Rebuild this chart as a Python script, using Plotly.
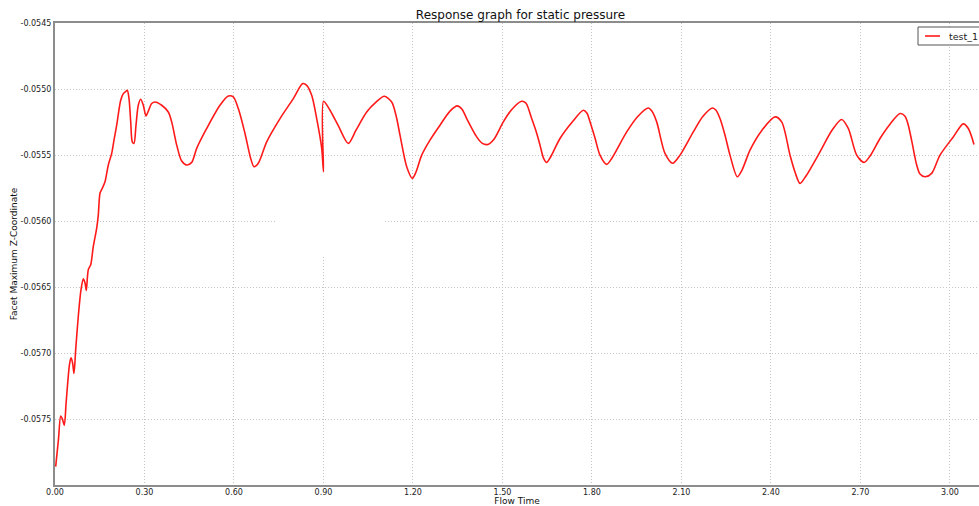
import plotly.graph_objects as go

# Flow time samples and the monitored facet maximum z-coordinate
flow_time = [
    0.0023, 0.0117, 0.0191, 0.0251, 0.0312, 0.0369, 0.0426, 0.0486, 0.0536, 0.0587,
    0.0637, 0.0694, 0.0781, 0.0872, 0.0949, 0.1006, 0.1049, 0.1116, 0.1197, 0.1284,
    0.1398, 0.1452, 0.1509, 0.1586, 0.1676, 0.1787, 0.1901, 0.1978, 0.2068, 0.2202,
    0.2290, 0.2380, 0.2424, 0.2481, 0.2538, 0.2591, 0.2648, 0.2715, 0.2792, 0.2873,
    0.2960, 0.3051, 0.3128, 0.3242, 0.3352, 0.3577, 0.3798, 0.3912, 0.4080, 0.4247,
    0.4415, 0.4583, 0.4750, 0.5085, 0.5531, 0.5810, 0.5977, 0.6145, 0.6369, 0.6561,
    0.6671, 0.6815, 0.7097, 0.7543, 0.7989, 0.8304, 0.8438, 0.8605, 0.8773, 0.8941,
    0.9001, 0.9002, 0.9219, 0.9487, 0.9832, 1.0091, 1.0449, 1.0761, 1.1039, 1.1287,
    1.1431, 1.1566, 1.1790, 1.1978, 1.2102, 1.2293, 1.2571, 1.2906, 1.3242, 1.3486,
    1.3644, 1.3802, 1.4137, 1.4314, 1.4506, 1.4717, 1.5029, 1.5320, 1.5645, 1.5790,
    1.5980, 1.6125, 1.6259, 1.6376, 1.6483, 1.6594, 1.6929, 1.7332, 1.7711, 1.7835,
    1.7935, 1.8103, 1.8270, 1.8495, 1.8673, 1.9165, 1.9544, 1.9890, 2.0013, 2.0171,
    2.0449, 2.0708, 2.0952, 2.1398, 2.1723, 2.2048, 2.2159, 2.2293, 2.2461, 2.2628,
    2.2873, 2.3031, 2.3299, 2.3701, 2.4137, 2.4361, 2.4640, 2.4807, 2.4975, 2.5176,
    2.5645, 2.6048, 2.6373, 2.6594, 2.6876, 2.7121, 2.7322, 2.7657, 2.7992, 2.8327,
    2.8495, 2.8605, 2.8729, 2.8887, 2.8998, 2.9165, 2.9390, 2.9668, 3.0114, 3.0449,
    3.0617, 3.0808,
]

facet_max_z = [
    -0.057861, -0.057653, -0.057477, -0.057502, -0.057548, -0.057389, -0.057225, -0.057087, -0.057036, -0.057072,
    -0.057155, -0.056974, -0.056722, -0.056520, -0.056437, -0.056468, -0.056526, -0.056369, -0.056332, -0.056193,
    -0.056054, -0.055954, -0.055790, -0.055752, -0.055702, -0.055576, -0.055488, -0.055387, -0.055274, -0.055085,
    -0.055035, -0.055017, -0.055010, -0.055073, -0.055249, -0.055400, -0.055412, -0.055274, -0.055123, -0.055078,
    -0.055123, -0.055204, -0.055168, -0.055110, -0.055098, -0.055123, -0.055174, -0.055249, -0.055425, -0.055546,
    -0.055576, -0.055556, -0.055450, -0.055299, -0.055123, -0.055053, -0.055060, -0.055148, -0.055337, -0.055526,
    -0.055589, -0.055563, -0.055400, -0.055224, -0.055073, -0.054959, -0.054972, -0.055048, -0.055224, -0.055450,
    -0.055627, -0.055093, -0.055161, -0.055274, -0.055412, -0.055312, -0.055174, -0.055100, -0.055055, -0.055098,
    -0.055199, -0.055350, -0.055589, -0.055677, -0.055629, -0.055501, -0.055387, -0.055274, -0.055168, -0.055128,
    -0.055153, -0.055224, -0.055363, -0.055410, -0.055420, -0.055380, -0.055249, -0.055153, -0.055093, -0.055108,
    -0.055224, -0.055319, -0.055425, -0.055523, -0.055556, -0.055523, -0.055375, -0.055252, -0.055161, -0.055184,
    -0.055249, -0.055372, -0.055501, -0.055571, -0.055523, -0.055325, -0.055206, -0.055144, -0.055168, -0.055249,
    -0.055488, -0.055563, -0.055501, -0.055325, -0.055206, -0.055144, -0.055161, -0.055224, -0.055350, -0.055501,
    -0.055665, -0.055614, -0.055463, -0.055312, -0.055211, -0.055249, -0.055501, -0.055629, -0.055715, -0.055659,
    -0.055476, -0.055312, -0.055231, -0.055299, -0.055501, -0.055556, -0.055508, -0.055375, -0.055267, -0.055186,
    -0.055206, -0.055274, -0.055403, -0.055576, -0.055644, -0.055665, -0.055639, -0.055501, -0.055363, -0.055264,
    -0.055299, -0.055420,
]

series_name = "test_1"
x_ticks = [0.0, 0.3, 0.6, 0.9, 1.2, 1.5, 1.8, 2.1, 2.4, 2.7, 3.0]
x_tick_text = ["0.00", "0.30", "0.60", "0.90", "1.20", "1.50", "1.80", "2.10", "2.40", "2.70", "3.00"]
y_ticks = [-0.0575, -0.0570, -0.0565, -0.0560, -0.0555, -0.0550, -0.0545]
y_tick_text = ["-0.0575", "-0.0570", "-0.0565", "-0.0560", "-0.0555", "-0.0550", "-0.0545"]

W, H = 979, 506
ML, MR, MT, MB = 55, 0, 23, 21
PW, PH = W - ML - MR, H - MT - MB
FONT = "DejaVu Sans"
LINE_COLOR = "#ff1a1a"


def px_x(p):
    """Pixel column -> paper x."""
    return (p - ML) / PW


def px_y(p):
    """Pixel row -> paper y."""
    return (H - MB - p) / PH


fig = go.Figure()
fig.add_trace(go.Scatter(
    x=flow_time, y=facet_max_z, mode="lines", name=series_name, showlegend=False,
    line=dict(color=LINE_COLOR, width=1.6, shape="spline", smoothing=0.8),
))

# blank patch over part of the grid
fig.add_shape(type="rect", xref="x", yref="y",
              x0=0.741, x1=1.106, y0=-0.056271, y1=-0.055569,
              fillcolor="white", line=dict(width=0), layer="between")

# compact legend box in the top-right corner
fig.add_shape(type="rect", xref="paper", yref="paper",
              x0=px_x(918), x1=px_x(1000), y0=px_y(45), y1=px_y(27),
              fillcolor="white", line=dict(color="#555", width=1), layer="above")
fig.add_shape(type="line", xref="paper", yref="paper",
              x0=px_x(925), x1=px_x(940), y0=px_y(36), y1=px_y(36),
              line=dict(color=LINE_COLOR, width=1.6), layer="above")
fig.add_annotation(text=series_name, xref="paper", yref="paper",
                   x=px_x(947), y=px_y(36), xanchor="left", yanchor="middle",
                   showarrow=False, font=dict(family=FONT, size=9.5, color="#222"))

axis_common = dict(
    showgrid=True, gridcolor="#c4c4c4", gridwidth=1, griddash="1px,2px",
    zeroline=False, showline=True, linecolor="#8c8c8c", linewidth=2,
    ticks="", tickfont=dict(family=FONT, size=8, color="#222"),
)

fig.update_xaxes(
    range=[0, PW / 298.3], tickvals=x_ticks, ticktext=x_tick_text,
    mirror=True, ticklabelstandoff=-2,
    title=dict(text="Flow Time", font=dict(family=FONT, size=9, color="#111"), standoff=0),
    **axis_common,
)
fig.update_yaxes(
    range=[-0.0580, -0.0545], tickvals=y_ticks, ticktext=y_tick_text,
    title=dict(text="Facet Maximum Z-Coordinate", font=dict(family=FONT, size=9, color="#111"), standoff=1),
    **axis_common,
)

fig.update_layout(
    width=W, height=H,
    margin=dict(l=ML, r=MR, t=MT, b=MB, pad=0, autoexpand=False),
    paper_bgcolor="white", plot_bgcolor="white",
    title=dict(text="Response graph for static pressure", x=px_x(520.5), xref="paper",
               xanchor="center", y=1 - 15 / H, yref="container", yanchor="middle",
               font=dict(family=FONT, size=12, color="#111")),
    showlegend=False,
)

fig.write_html("out.html")
